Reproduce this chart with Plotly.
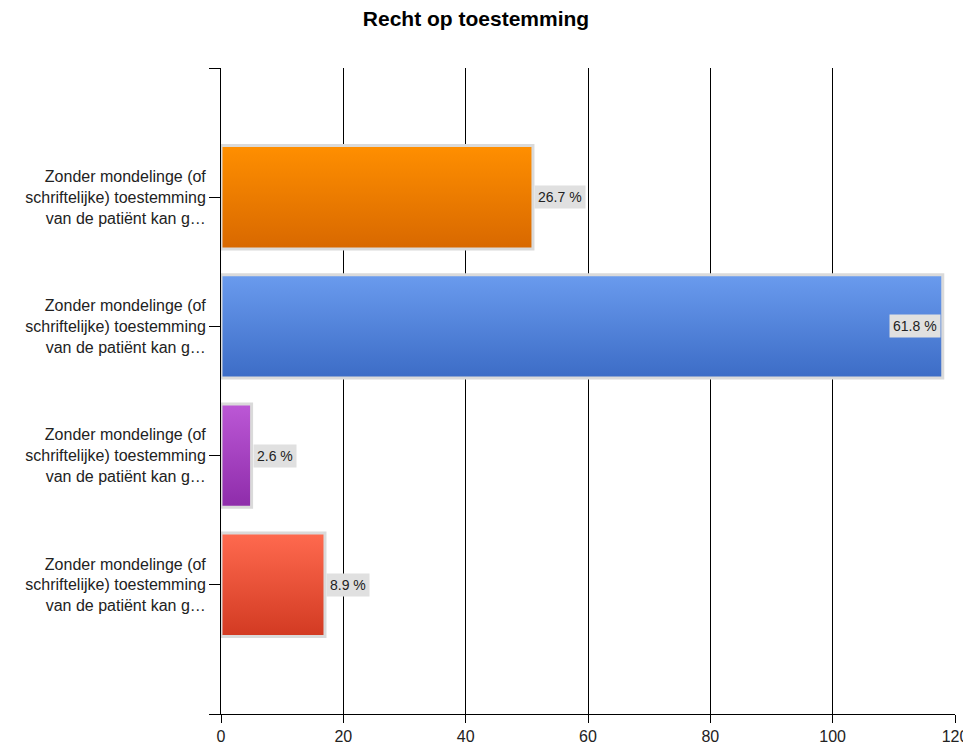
import plotly.graph_objects as go

title = "Recht op toestemming"
categories = [
    "Zonder mondelinge (of<br>schriftelijke) toestemming<br>van de patiënt kan g…",
    "Zonder mondelinge (of<br>schriftelijke) toestemming<br>van de patiënt kan g…",
    "Zonder mondelinge (of<br>schriftelijke) toestemming<br>van de patiënt kan g…",
    "Zonder mondelinge (of<br>schriftelijke) toestemming<br>van de patiënt kan g…",
]
counts = [51, 118, 5, 17]
percent_labels = ["26.7 %", "61.8 %", "2.6 %", "8.9 %"]
top_colors = ["#FF8F00", "#6A9BEE", "#BC58D6", "#FF6A4F"]
bottom_colors = ["#D86800", "#3C6CC6", "#8E2CAA", "#D23A22"]
x_ticks = [0, 20, 40, 60, 80, 100, 120]

FONT = "Liberation Sans, Arial, sans-serif"
n = len(counts)
half = 0.4
fig = go.Figure()
annotations = []
for i, (v, lab, c1, c2) in enumerate(zip(counts, percent_labels, top_colors, bottom_colors)):
    yc = n - i
    fig.add_trace(go.Scatter(
        x=[0, v, v, 0, 0],
        y=[yc - half, yc - half, yc + half, yc + half, yc - half],
        mode="lines",
        fill="toself",
        fillgradient=dict(type="vertical", colorscale=[[0, c2], [1, c1]]),
        line=dict(color="#DADADA", width=3),
        hoverinfo="skip",
        showlegend=False,
    ))
    inside = v > 0.9 * x_ticks[-1]
    annotations.append(dict(
        x=v, y=yc, xref="x", yref="y",
        text=lab, showarrow=False,
        xanchor="right" if inside else "left",
        xshift=-2 if inside else 1,
        bgcolor="#E0E0E0",
        borderpad=3,
        font=dict(family=FONT, size=14, color="#222222"),
    ))

fig.update_layout(
    width=963, height=737,
    margin=dict(l=213, r=16, t=60, b=31, autoexpand=False),
    paper_bgcolor="white", plot_bgcolor="white",
    title=dict(text="<b>" + title + "</b>", x=0.486, xanchor="center", y=0.986, yanchor="middle",
               font=dict(family=FONT, size=21, color="black")),
    font=dict(family=FONT, size=16, color="#222222"),
    annotations=annotations,
    xaxis=dict(range=[0, x_ticks[-1]], tickvals=x_ticks, showgrid=True, gridcolor="black", gridwidth=1,
               showline=True, linecolor="black", linewidth=1, ticks="outside", ticklen=8,
               tickcolor="black", zeroline=False, fixedrange=True, automargin=False,
               tickfont=dict(size=16)),
    yaxis=dict(range=[0, n + 1], tickvals=list(range(0, n + 2)),
               ticktext=[""] + categories[::-1] + [""],
               showgrid=False, showline=True, linecolor="black", linewidth=1,
               ticks="outside", ticklen=11, tickcolor="black", zeroline=False, fixedrange=True,
               automargin=False, tickfont=dict(size=16)),
)

fig.write_html("out.html")
